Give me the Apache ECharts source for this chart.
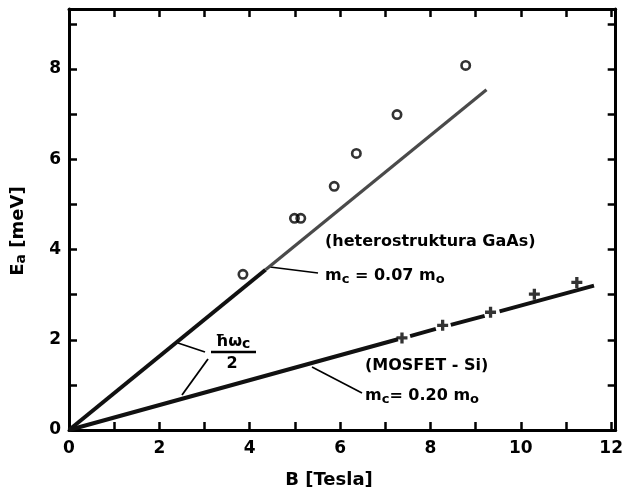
<!DOCTYPE html>
<html>
<head>
<meta charset="utf-8">
<script src="https://cdn.jsdelivr.net/npm/echarts@6/dist/echarts.min.js"></script>
<style>
html,body{margin:0;padding:0;background:#fff;}
#chart{width:626px;height:492px;}
</style>
</head>
<body>
<div id="chart"></div>
<script>
// ---- data ----
var gaasLineB = [0, 4.35, 9.24];
var gaasLineE = [0, 3.55, 7.54];
var gaasCircleB = [3.85, 4.99, 5.13, 5.87, 6.36, 7.26, 8.78];
var gaasCircleE = [3.45, 4.69, 4.69, 5.40, 6.13, 6.99, 8.08];
var mosLineB = [0, 7.28, null, 7.55, 8.12, null, 8.45, 9.20, null, 9.53, 11.62];
var mosLineE = [0, 2.01, null, 2.08, 2.24, null, 2.33, 2.53, null, 2.63, 3.20];
var mosCrossB = [7.37, 8.27, 9.33, 10.30, 11.24];
var mosCrossE = [2.04, 2.32, 2.61, 3.01, 3.27];
var xTickLabels = [0, 2, 4, 6, 8, 10, 12];
var yTickLabels = [0, 2, 4, 6, 8];

function pairs(a, b) {
  var out = [];
  for (var i = 0; i < a.length; i++) {
    out.push(a[i] === null ? [null, null] : [a[i], b[i]]);
  }
  return out;
}

var FONT = 'DejaVu Sans';
var chart = echarts.init(document.getElementById('chart'), null, {renderer: 'canvas'});

var axisLine = {show: true, onZero: false, lineStyle: {color: '#000', width: 3}};
var axisTick = {show: true, inside: true, length: 8, interval: 0, lineStyle: {color: '#000', width: 2.5}};
var labelStyle = {color: '#000', fontFamily: FONT, fontWeight: 'bold', fontSize: 17};
var RING = 'path://M5,0A5,5,0,1,1,5,10A5,5,0,1,1,5,0ZM5,2.4A2.6,2.6,0,1,0,5,7.6A2.6,2.6,0,1,0,5,2.4Z';

var option = {
  animation: false,
  backgroundColor: '#fff',
  grid: {left: 69, top: 9, right: 7, bottom: 62, containLabel: false},
  xAxis: [{
    type: 'value', min: 0, max: 12.1, interval: 1, position: 'bottom',
    axisLine: axisLine, axisTick: axisTick, splitLine: {show: false},
    axisLabel: Object.assign({margin: 10, showMaxLabel: false, formatter: function (v) {
      return xTickLabels.indexOf(v) >= 0 ? String(v) : '';
    }}, labelStyle)
  }, {
    type: 'value', min: 0, max: 12.1, interval: 1, position: 'top',
    axisLine: axisLine, axisTick: axisTick, splitLine: {show: false},
    axisLabel: {show: false}
  }],
  yAxis: [{
    type: 'value', min: 0, max: 9.33, interval: 1, position: 'left',
    axisLine: axisLine, axisTick: axisTick, splitLine: {show: false},
    axisLabel: Object.assign({margin: 8, showMaxLabel: false, formatter: function (v) {
      return yTickLabels.indexOf(v) >= 0 ? String(v) : '';
    }}, labelStyle)
  }, {
    type: 'value', min: 0, max: 9.33, interval: 1, position: 'right',
    axisLine: axisLine, axisTick: axisTick, splitLine: {show: false},
    axisLabel: {show: false}
  }],
  series: [
    {
      type: 'line', name: 'GaAs theory', symbol: 'none', silent: true,
      data: pairs(gaasLineB.slice(0, 2), gaasLineE.slice(0, 2)),
      lineStyle: {color: '#111', width: 4}
    },
    {
      type: 'line', name: 'GaAs theory (cont.)', symbol: 'none', silent: true,
      data: pairs(gaasLineB.slice(1), gaasLineE.slice(1)),
      lineStyle: {color: '#4a4a4a', width: 3.2}
    },
    {
      type: 'line', name: 'MOSFET theory', symbol: 'none', silent: true, connectNulls: false,
      data: pairs(mosLineB, mosLineE),
      lineStyle: {color: '#111', width: 4}
    },
    {
      type: 'scatter', name: 'GaAs', symbol: RING, symbolSize: 11,
      data: pairs(gaasCircleB, gaasCircleE),
      itemStyle: {color: '#000'}
    },
    {
      type: 'scatter', name: 'MOSFET',
      symbol: 'path://M3.5,0h3v3.5h3.5v3h-3.5v3.5h-3v-3.5h-3.5v-3h3.5z', symbolSize: 11,
      data: pairs(mosCrossB, mosCrossE),
      itemStyle: {color: '#000'}
    }
  ],
  graphic: [
    // axis titles
    {type: 'text', x: 329, y: 480, style: {
      text: 'B [Tesla]', fill: '#000', font: 'bold 18px "DejaVu Sans"',
      textAlign: 'center', textVerticalAlign: 'middle'}},
    {type: 'text', x: 18, y: 231, rotation: Math.PI / 2, style: {
      text: 'E{sub|a} [meV]', fill: '#000', font: 'bold 18px "DejaVu Sans"',
      textAlign: 'center', textVerticalAlign: 'middle',
      rich: {sub: {fontSize: 14, fontWeight: 'bold', fontFamily: FONT, verticalAlign: 'bottom', padding: [6, 0, 0, 0]}}}},
    // GaAs annotation
    {type: 'text', x: 325, y: 242, style: {
      text: '(heterostruktura GaAs)', fill: '#000', font: 'bold 16px "DejaVu Sans"',
      textAlign: 'left', textVerticalAlign: 'middle'}},
    {type: 'text', x: 325, y: 276, style: {
      text: 'm{sub|c} = 0.07 m{sub|o}', fill: '#000', font: 'bold 16px "DejaVu Sans"',
      textAlign: 'left', textVerticalAlign: 'middle',
      rich: {sub: {fontSize: 13, fontWeight: 'bold', fontFamily: FONT, padding: [8, 0, 0, 0]}}}},
    {type: 'line', shape: {x1: 270, y1: 267, x2: 318, y2: 273}, style: {stroke: '#000', lineWidth: 1.6}},
    // MOSFET annotation
    {type: 'text', x: 365, y: 366, style: {
      text: '(MOSFET - Si)', fill: '#000', font: 'bold 16px "DejaVu Sans"',
      textAlign: 'left', textVerticalAlign: 'middle'}},
    {type: 'text', x: 365, y: 396, style: {
      text: 'm{sub|c}= 0.20 m{sub|o}', fill: '#000', font: 'bold 16px "DejaVu Sans"',
      textAlign: 'left', textVerticalAlign: 'middle',
      rich: {sub: {fontSize: 13, fontWeight: 'bold', fontFamily: FONT, padding: [8, 0, 0, 0]}}}},
    {type: 'line', shape: {x1: 312, y1: 367, x2: 362, y2: 393}, style: {stroke: '#000', lineWidth: 1.6}},
    // hbar omega_c / 2
    {type: 'text', x: 233, y: 342, style: {
      text: 'ħω{sub|c}', fill: '#000', font: 'bold 16px "DejaVu Sans"',
      textAlign: 'center', textVerticalAlign: 'middle',
      rich: {sub: {fontSize: 14, fontWeight: 'bold', fontFamily: FONT, padding: [4, 0, 0, 0]}}}},
    {type: 'line', shape: {x1: 211, y1: 352, x2: 256, y2: 352}, style: {stroke: '#000', lineWidth: 2.5}},
    {type: 'text', x: 232, y: 364, style: {
      text: '2', fill: '#000', font: 'bold 16px "DejaVu Sans"',
      textAlign: 'center', textVerticalAlign: 'middle'}},
    {type: 'line', shape: {x1: 178, y1: 343, x2: 205, y2: 352}, style: {stroke: '#000', lineWidth: 1.8}},
    {type: 'line', shape: {x1: 208, y1: 359, x2: 182, y2: 395}, style: {stroke: '#000', lineWidth: 1.8}}
  ]
};
chart.setOption(option);
</script>
</body>
</html>
